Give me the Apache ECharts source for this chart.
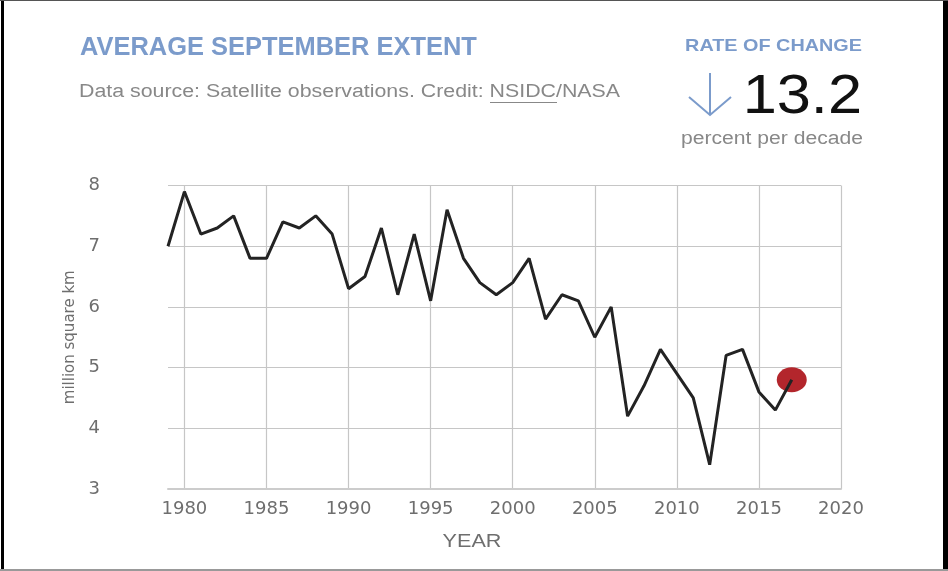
<!DOCTYPE html>
<html>
<head>
<meta charset="utf-8">
<script src="https://cdn.jsdelivr.net/npm/echarts@6/dist/echarts.min.js"></script>
<style>
  html, body { margin: 0; padding: 0; background: #fff; }
  #chart { width: 948px; height: 571px; }
</style>
</head>
<body>
<div id="chart"></div>
<script>
// 年份（类目轴，1979 在左边缘，2020 在右边缘）
const years = [
  "1979", "1980", "1981", "1982", "1983", "1984", "1985", "1986", "1987", "1988",
  "1989", "1990", "1991", "1992", "1993", "1994", "1995", "1996", "1997", "1998",
  "1999", "2000", "2001", "2002", "2003", "2004", "2005", "2006", "2007", "2008",
  "2009", "2010", "2011", "2012", "2013", "2014", "2015", "2016", "2017", "2018",
  "2019", "2020",
];

// 九月平均海冰范围（百万平方公里），1979-2017
const extent = [
  7.0, 7.9, 7.2, 7.3, 7.5, 6.8, 6.8, 7.4, 7.3, 7.5,
  7.2, 6.3, 6.5, 7.3, 6.2, 7.2, 6.1, 7.6, 6.8, 6.4,
  6.2, 6.4, 6.8, 5.8, 6.2, 6.1, 5.5, 6.0, 4.2, 4.7,
  5.3, 4.9, 4.5, 3.4, 5.2, 5.3, 4.6, 4.3, 4.8,
];

// 最新一年高亮
const latest = ["2017", 4.8];

const yTicks = { min: 3, max: 8, interval: 1 };

const BLUE = "#7b9bcb";
const GREY = "#888888";
const AXIS_GREY = "#6e6e6e";
const FONT = "'Liberation Sans', Arial, sans-serif";
const AXIS_FONT = "'DejaVu Sans', sans-serif";

const everyFive = (idx, val) => Number(val) % 5 === 0;

// 带横向拉伸的文字
const label = (x, y, text, font, fill, align, sx) => ({
  type: "text",
  x: x,
  y: y,
  scaleX: sx,
  style: {
    x: 0, y: 0, text: text, font: font, fill: fill,
    textAlign: align, textVerticalAlign: "middle",
  },
});

const chart = echarts.init(document.getElementById("chart"));

const option = {
  backgroundColor: "#ffffff",
  animation: false,
  grid: { left: 168, right: 107, top: 185.5, bottom: 82 },
  xAxis: {
    type: "category",
    data: years,
    boundaryGap: false,
    axisLine: { show: true, lineStyle: { color: "#cccccc", width: 2 } },
    axisTick: { show: false, interval: everyFive },
    axisLabel: {
      interval: everyFive,
      color: AXIS_GREY,
      fontSize: 18,
      fontFamily: AXIS_FONT,
      margin: 11,
    },
    splitLine: {
      show: true,
      interval: everyFive,
      lineStyle: { color: "#c6c6c6", width: 1.2 },
    },
  },
  yAxis: {
    type: "value",
    min: yTicks.min,
    max: yTicks.max,
    interval: yTicks.interval,
    name: "million square km",
    nameLocation: "middle",
    nameGap: 90,
    nameTextStyle: { color: AXIS_GREY, fontSize: 15, fontFamily: AXIS_FONT },
    axisLine: { show: false },
    axisTick: { show: false },
    axisLabel: { color: AXIS_GREY, fontSize: 18, fontFamily: AXIS_FONT, margin: 68 },
    splitLine: { lineStyle: { color: "#c6c6c6", width: 1.2 } },
  },
  series: [
    {
      name: "latest",
      type: "scatter",
      data: [latest],
      symbol: "circle",
      symbolSize: [30, 25],
      itemStyle: { color: "#b3262c", opacity: 1 },
      z: 2,
    },
    {
      name: "extent",
      type: "line",
      data: extent,
      showSymbol: false,
      symbol: "none",
      lineStyle: { color: "#232323", width: 3 },
      z: 3,
    },
  ],
  graphic: [
    // 外框
    { type: "rect", shape: { x: 1, y: 0, width: 3, height: 571 }, style: { fill: "#000" } },
    { type: "rect", shape: { x: 943, y: 0, width: 5, height: 571 }, style: { fill: "#000" } },
    { type: "rect", shape: { x: 0, y: 0, width: 948, height: 1 }, style: { fill: "#555" } },
    { type: "rect", shape: { x: 0, y: 569, width: 948, height: 2 }, style: { fill: "#999" } },
    // 标题
    label(80, 48, "AVERAGE SEPTEMBER EXTENT", "bold 25px " + FONT, BLUE, "left", 1.018),
    label(79, 92, "Data source: Satellite observations. Credit: NSIDC/NASA", "18px " + FONT, GREY, "left", 1.186),
    { type: "rect", shape: { x: 490, y: 102, width: 67, height: 1 }, style: { fill: GREY } },
    // 右上角变化率
    label(862, 46, "RATE OF CHANGE", "bold 17px " + FONT, BLUE, "right", 1.166),
    {
      type: "polyline",
      shape: { points: [[710, 73], [710, 115]] },
      style: { stroke: BLUE, lineWidth: 2, fill: null },
    },
    {
      type: "polyline",
      shape: { points: [[689, 97], [710, 115], [731, 97]] },
      style: { stroke: BLUE, lineWidth: 2, fill: null },
    },
    label(862, 98, "13.2", "56px " + FONT, "#111", "right", 1.095),
    label(863, 139, "percent per decade", "18px " + FONT, GREY, "right", 1.174),
    // 横轴名称
    label(472, 542, "YEAR", "18px " + FONT, AXIS_GREY, "center", 1.2),
  ],
};

chart.setOption(option);
</script>
</body>
</html>
